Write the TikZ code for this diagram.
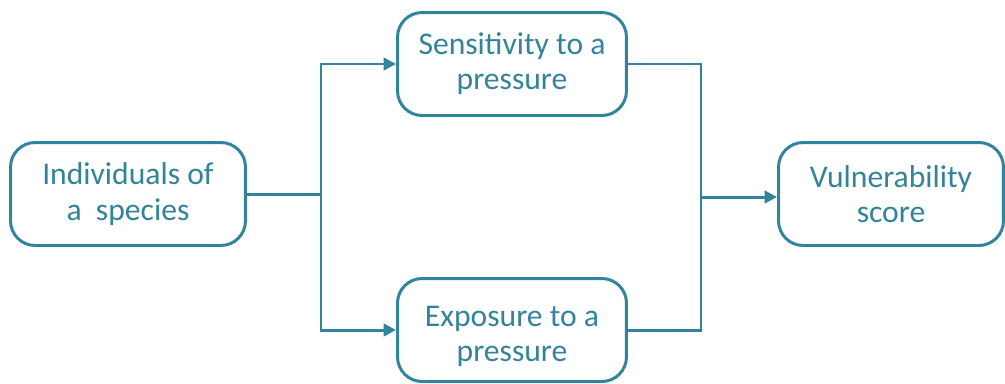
\documentclass[tikz,border=0pt]{standalone}
\usepackage{fontspec}
\setmainfont{Carlito}
\usepackage{xcolor}
\usetikzlibrary{arrows.meta,positioning,calc}
\definecolor{boxteal}{HTML}{31849B}

\begin{document}
\begin{tikzpicture}[x=0.02cm, y=-0.02cm,
    boxtext/.style={align=center, text=boxteal, font=\fontsize{18}{20}\selectfont, inner sep=0pt},
    box/.style={boxtext, draw=boxteal, line width=1.7pt, rounded corners=14pt, minimum height=2.06cm},
    link/.style={draw=boxteal, line width=1.7pt},
    arr/.style={link, -{Triangle[length=7pt, width=7pt]}},
]
    \useasboundingbox (0,0) rectangle (1005,383);

    % Boxes
    \node[box, minimum width=4.7cm] (indiv) at (128,194) {Individuals of\\a~~species};
    \node[box, minimum width=4.58cm] (sens) at (512,64) {Sensitivity to a\\pressure};
    \node[box, minimum width=4.58cm, label={[name=expotext, boxtext, yshift=-0.12cm]center:Exposure to a\\pressure}] (expo) at (512,330) {};
    \node[box, minimum width=4.5cm] (vuln) at (891,194) {Vulnerability\\score};

    % Split and join points
    \coordinate (split) at (321,194);
    \coordinate (join) at (701,197);

    % Connectors
    \draw[link] (indiv.east) -- (split);
    \draw[arr] (split) |- (sens.west);
    \draw[arr] (split) |- (expo.west);
    \draw[link] (sens.east) -| (join);
    \draw[link] (expo.east) -| (join);
    \draw[arr] (join) -- (join -| vuln.west);
\end{tikzpicture}
\end{document}
